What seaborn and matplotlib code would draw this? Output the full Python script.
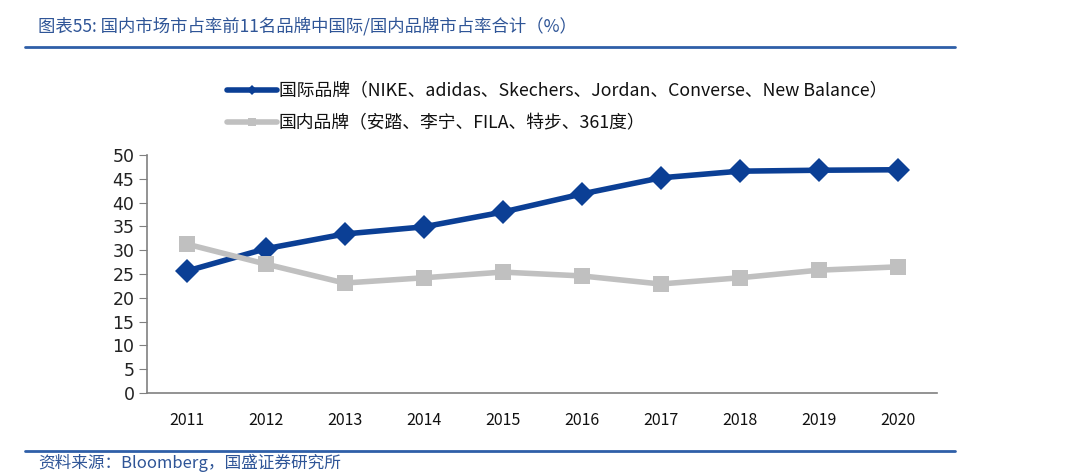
import matplotlib
matplotlib.use("Agg")
import matplotlib.pyplot as plt
import seaborn as sns
import numpy as np
import pandas as pd

years = ["2011", "2012", "2013", "2014", "2015", "2016", "2017", "2018", "2019", "2020"]
intl = [25.6, 30.3, 33.4, 34.9, 38.0, 41.8, 45.2, 46.6, 46.8, 46.9]
domestic = [31.3, 27.1, 23.1, 24.2, 25.4, 24.6, 22.9, 24.2, 25.8, 26.5]
intl_name = "国际品牌（NIKE、adidas、Skechers、Jordan、Converse、New Balance）"
dom_name = "国内品牌（安踏、李宁、FILA、特步、361度）"
yticks = [0, 5, 10, 15, 20, 25, 30, 35, 40, 45, 50]

title = "图表55: 国内市场市占率前11名品牌中国际/国内品牌市占率合计（%）"
source = "资料来源：Bloomberg，国盛证券研究所"

sns.set_style("white")
plt.rcParams['font.family'] = ['Noto Sans CJK SC', 'DejaVu Sans']

df = pd.DataFrame({"year": years * 2,
                   "value": intl + domestic,
                   "series": [intl_name] * len(years) + [dom_name] * len(years)})
df["x"] = list(range(len(years))) * 2

fig = plt.figure(figsize=(10.8, 4.72), dpi=100)
ax = fig.add_axes([147 / 1080, 1 - 393 / 472, (937 - 147) / 1080, (393 - 155) / 472])

blue = "#0b3f95"
grey = "#c0c0c0"
sns.lineplot(data=df, x="x", y="value", hue="series", style="series",
             palette={intl_name: blue, dom_name: grey},
             markers={intl_name: "D", dom_name: "s"}, dashes=False,
             linewidth=4, markersize=12, markeredgewidth=0, ax=ax, legend=True)

ax.set_xlim(-0.5, len(years) - 0.5)
ax.set_ylim(0, 50)
ax.set_yticks(yticks)
ax.set_yticklabels([str(v) for v in yticks], fontsize=12.5, color="#222222",
                   family="DejaVu Sans")
ax.set_xticks(range(len(years)))
ax.set_xticklabels(years, fontsize=11.5, color="#111111")
ax.set_xticks(np.arange(-0.5, len(years)), minor=True)
ax.tick_params(axis="x", which="major", length=0, pad=14)
ax.tick_params(axis="x", which="minor", direction="in", length=5, color="#808080")
ax.tick_params(axis="y", direction="out", length=6, color="#808080", left=True, pad=3)
ax.set_xlabel("")
ax.set_ylabel("")
for s in ["top", "right"]:
    ax.spines[s].set_visible(False)
for s in ["left", "bottom"]:
    ax.spines[s].set_color("#808080")
    ax.spines[s].set_linewidth(1.2)

leg = ax.legend(loc="lower left", bbox_to_anchor=(211 / 1080, 1 - 148 / 472),
                bbox_transform=fig.transFigure, frameon=False, fontsize=12.8,
                handlelength=2.8, handletextpad=0.1, labelspacing=0.8,
                markerscale=0.45)
for t in leg.get_texts():
    t.set_color("#111111")

# header and footer
title_c = "#2f5597"
fig.text(38 / 1080, 1 - 26 / 472, title, fontsize=12.5, color=title_c,
         style="italic", va="center", ha="left")
fig.add_artist(plt.Line2D([25 / 1080, 955 / 1080], [1 - 47 / 472] * 2,
                          color="#2f5fa8", linewidth=2))
fig.add_artist(plt.Line2D([25 / 1080, 955 / 1080], [1 - 451 / 472] * 2,
                          color="#2f5fa8", linewidth=2))
fig.text(38 / 1080, 1 - 463 / 472, source, fontsize=12, color=title_c,
         style="italic", va="center", ha="left")

fig.savefig("out.png", dpi=100)
